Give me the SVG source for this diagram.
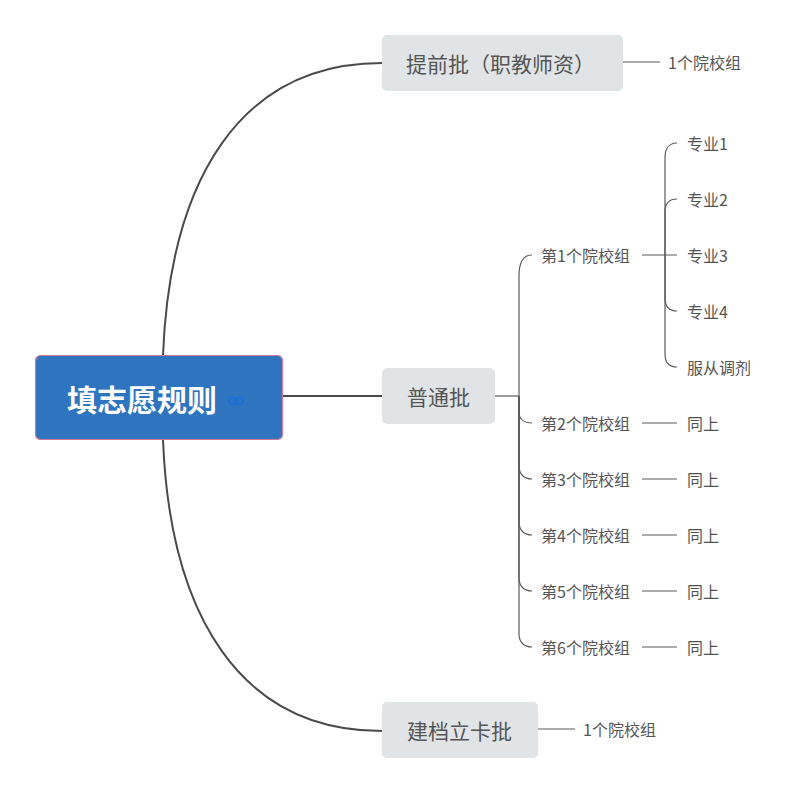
<svg xmlns="http://www.w3.org/2000/svg" width="799" height="793" viewBox="0 0 799 793">
<style>
text{font-family:"Noto Sans CJK SC","Noto Sans",sans-serif;dominant-baseline:central;fill:#555}
.main{fill:none;stroke:#4a4a4a;stroke-width:2}
.sub{fill:none;stroke:#5a5a5a;stroke-width:1.2}
.box{fill:#e0e4e6}
.l1{font-size:21px}
.l2{font-size:16px}
</style>
<rect width="799" height="793" fill="#ffffff"/>
<g id="connectors">
<path class="main" d="M163,355 C170,180 240,63 382,63"/>
<path class="main" d="M283,396 H382"/>
<path class="main" d="M163,440 C170,615 240,731 382,731"/>
<path class="sub" d="M623,62 H660"/>
<path class="sub" d="M538,729 H575"/>
<path class="sub" d="M495,396 H519"/>
<path class="sub" d="M519,396 V276 C519,263 523,255 532,255"/>
<path class="sub" d="M519,396 V412 C519,419 524,423 532,423"/>
<path class="sub" d="M519,396 V466 C519,474 524,479 532,479"/>
<path class="sub" d="M519,396 V522 C519,530 524,535 532,535"/>
<path class="sub" d="M519,396 V578 C519,586 524,591 532,591"/>
<path class="sub" d="M519,396 V634 C519,642 524,647 532,647"/>
<path class="sub" d="M642,255 H677"/>
<path class="sub" d="M665,255 V158 C665,149 669,143 677,143"/>
<path class="sub" d="M665,255 V212 C665,204 669,199 677,199"/>
<path class="sub" d="M665,255 V298 C665,306 669,311 677,311"/>
<path class="sub" d="M665,255 V354 C665,362 669,367 677,367"/>
<path class="sub" d="M642,423 H677"/>
<path class="sub" d="M642,479 H677"/>
<path class="sub" d="M642,535 H677"/>
<path class="sub" d="M642,591 H677"/>
<path class="sub" d="M642,647 H677"/>
</g>
<g id="root">
<rect x="35.5" y="355.5" width="247" height="84" rx="5" fill="#2e74bf" stroke="#d07a96" stroke-width="1.2"/>
<text x="67" y="398" font-size="30" font-weight="bold" style="fill:#ffffff">填志愿规则</text>
<g fill="none" stroke="#1a6fe0" stroke-width="1.5">
<rect x="229" y="397.5" width="8" height="6.5" rx="3.2"/>
<rect x="235" y="397.5" width="8" height="6.5" rx="3.2"/>
</g>
</g>
<g id="n-tiqian">
<rect class="box" x="382" y="35" width="241" height="56" rx="5"/>
<text class="l1" x="406" y="63">提前批（职教师资）</text>
</g>
<g id="n-tiqian-1"><text class="l2" x="668" y="62">1个院校组</text></g>
<g id="n-putong">
<rect class="box" x="382" y="368" width="113" height="56" rx="5"/>
<text class="l1" x="407" y="396">普通批</text>
</g>
<g id="n-jiandang">
<rect class="box" x="382" y="702" width="156" height="56" rx="5"/>
<text class="l1" x="407" y="730">建档立卡批</text>
</g>
<g id="n-jiandang-1"><text class="l2" x="583" y="729">1个院校组</text></g>
<g id="g1"><text class="l2" x="541" y="255">第1个院校组</text></g>
<g id="g2"><text class="l2" x="541" y="423">第2个院校组</text></g>
<g id="g3"><text class="l2" x="541" y="479">第3个院校组</text></g>
<g id="g4"><text class="l2" x="541" y="535">第4个院校组</text></g>
<g id="g5"><text class="l2" x="541" y="591">第5个院校组</text></g>
<g id="g6"><text class="l2" x="541" y="647">第6个院校组</text></g>
<g id="m1"><text class="l2" x="687" y="143">专业1</text></g>
<g id="m2"><text class="l2" x="687" y="199">专业2</text></g>
<g id="m3"><text class="l2" x="687" y="255">专业3</text></g>
<g id="m4"><text class="l2" x="687" y="311">专业4</text></g>
<g id="m5"><text class="l2" x="687" y="367">服从调剂</text></g>
<g id="s2"><text class="l2" x="687" y="423">同上</text></g>
<g id="s3"><text class="l2" x="687" y="479">同上</text></g>
<g id="s4"><text class="l2" x="687" y="535">同上</text></g>
<g id="s5"><text class="l2" x="687" y="591">同上</text></g>
<g id="s6"><text class="l2" x="687" y="647">同上</text></g>
</svg>
